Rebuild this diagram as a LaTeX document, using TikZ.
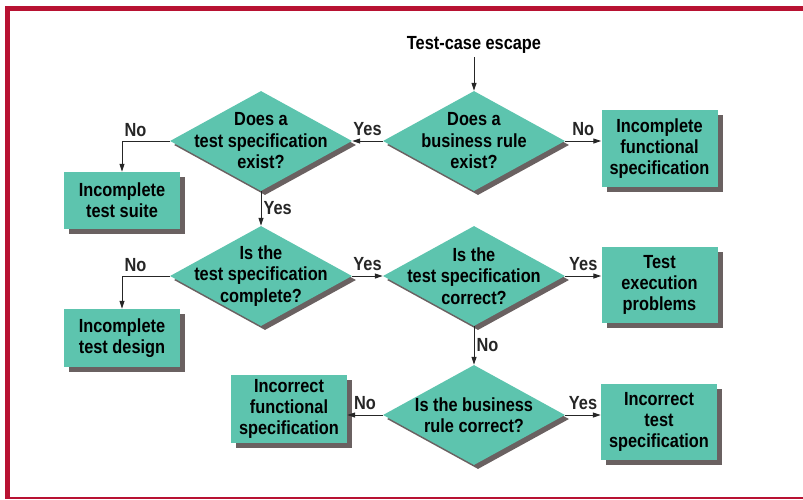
\documentclass[tikz,border=0pt]{standalone}
\usepackage{fontspec}
\setmainfont{Liberation Sans}[FakeStretch=0.86]
\usepackage{xcolor}
\usetikzlibrary{shapes.geometric, arrows.meta, shadows}

\definecolor{flowteal}{RGB}{93,196,174}
\definecolor{flowshade}{RGB}{106,97,97}
\definecolor{framered}{RGB}{184,18,50}

\begin{document}
\begin{tikzpicture}[x=1pt, y=-1pt,
  box/.style={rectangle, fill=flowteal, minimum width=116pt, align=center,
              font=\fontsize{19}{21}\selectfont\bfseries, inner sep=2pt,
              drop shadow={shadow xshift=5pt, shadow yshift=-5pt,
                           fill=flowshade, opacity=1}},
  decision/.style={diamond, fill=flowteal, minimum width=182pt,
                   minimum height=100pt, inner sep=0pt,
                   drop shadow={shadow xshift=4pt, shadow yshift=-4pt,
                                fill=flowshade, opacity=1}},
  question/.style={align=center, font=\fontsize{19}{21.5}\selectfont\bfseries},
  arrow/.style={-{Triangle[length=8pt, width=5pt]}, line width=1pt, black!85},
  yn/.style={font=\fontsize{19}{20}\selectfont\bfseries, inner sep=2pt},
  ynup/.style={yn, midway, above, yshift=3pt}
]
\useasboundingbox (0,0) rectangle (803,499);

% frame
\fill[framered] (5,6) rectangle (803,11);
\fill[framered] (5,6) rectangle (10,498);
\fill[framered] (5,497) rectangle (803,499);

\node[question] (escape) at (474,45) {Test-case escape};

% decisions
\node[decision, label={[question]center:Does a\\business rule\\exist?}] (ruleex) at (474,141) {};
\node[decision, label={[question]center:Does a\\test specification\\exist?}] (specex) at (261,141) {};
\node[decision, label={[question]center:Is the\\test specification\\complete?}] (speccomp) at (261,276) {};
\node[decision, label={[question]center:Is the\\test specification\\correct?}] (speccorr) at (474,276) {};
\node[decision, label={[question]center:Is the business\\rule correct?}] (rulecorr) at (474,415) {};

% outcomes
\node[box, minimum height=77pt] (incfunc) at (659.5,148.5)
  {Incomplete\\functional\\specification};
\node[box, minimum height=57pt] (incsuite) at (122,200.5) {Incomplete\\test suite};
\node[box, minimum height=58pt] (incdesign) at (122,338) {Incomplete\\test design};
\node[box, minimum height=76pt] (execprob) at (659.5,285) {Test\\execution\\problems};
\node[box, minimum height=68pt] (wrongfunc) at (289,409)
  {Incorrect\\functional\\specification};
\node[box, minimum height=76pt] (wrongspec) at (659,422) {Incorrect\\test\\specification};

\draw[arrow] (escape) -- (ruleex.north);
\draw[arrow] (ruleex.west) -- node[ynup] {Yes} (specex.east);
\draw[arrow] (ruleex.east) -- node[ynup] {No} (ruleex.east -| incfunc.west);
\draw[arrow] (specex.west) -| node[yn, pos=0.5, anchor=south west, yshift=2pt] {No} (incsuite.north);
\draw[arrow] (specex.south) -- node[yn, midway, right] {Yes} (speccomp.north);
\draw[arrow] (speccomp.west) -| node[yn, pos=0.5, anchor=south west, yshift=2pt] {No} (incdesign.north);
\draw[arrow] (speccomp.east) -- node[ynup] {Yes} (speccorr.west);
\draw[arrow] (speccorr.east) -- node[ynup] {Yes} (speccorr.east -| execprob.west);
\draw[arrow] (speccorr.south) -- node[yn, midway, right] {No} (rulecorr.north);
\draw[arrow] (rulecorr.west) -- node[ynup] {No} (rulecorr.west -| wrongfunc.east);
\draw[arrow] (rulecorr.east) -- node[ynup] {Yes} (rulecorr.east -| wrongspec.west);

\end{tikzpicture}
\end{document}
